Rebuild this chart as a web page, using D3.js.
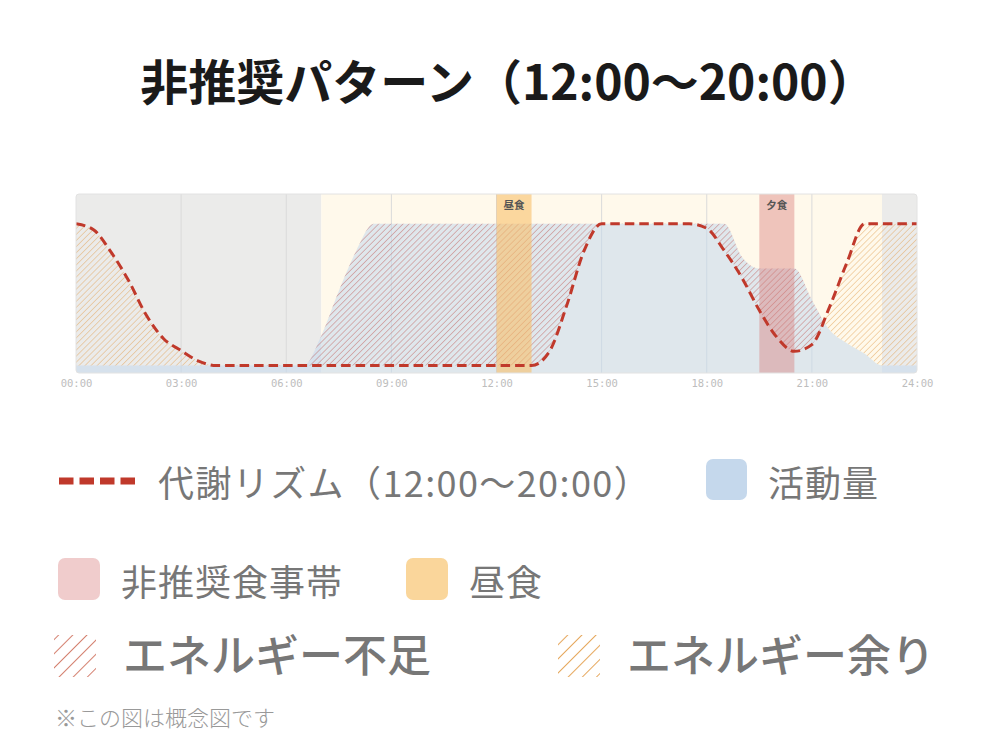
<!DOCTYPE html>
<html><head><meta charset="utf-8">
<script src="https://cdn.jsdelivr.net/npm/d3@7"></script>
<style>
html,body{margin:0;padding:0;background:#fff;}
svg{display:block;}
</style></head>
<body>
<svg id="chart" width="993" height="743"></svg>
<script>
// ---- data ----
const titleText = "非推奨パターン（12:00〜20:00）";
const metHours  = [0,0.5,1,1.5,2,2.5,3,3.5,4,13,13.5,14,14.5,15,17.5,18,18.5,19,19.5,20,20.5,21,21.5,22,22.5,24];
const metValues = [1.0,0.96,0.81,0.62,0.39,0.23,0.15,0.08,0.05,0.05,0.14,0.45,0.82,1.0,1.0,0.97,0.82,0.64,0.42,0.24,0.145,0.19,0.44,0.74,1.0,1.0];
const actHours  = [0,6.5,7,7.5,8,8.5,18.5,19,19.5,20.5,21,21.5,22,22.5,23,24];
const actValues = [0.05,0.05,0.25,0.55,0.82,1.0,1.0,0.78,0.7,0.7,0.49,0.29,0.2,0.13,0.05,0.05];
const zoneStarts = [0,7,23];
const zoneEnds   = [7,23,24];
const zoneKinds  = ["night","day","night"];
const mealLabels = ["昼食","夕食"];
const mealStarts = [12,19.5];
const mealEnds   = [13,20.5];
const mealKinds  = ["lunch","bad"];
const tickHours  = [0,3,6,9,12,15,18,21,24];
const legendLabels = {
  met: "代謝リズム（12:00〜20:00）",
  act: "活動量",
  bad: "非推奨食事帯",
  lunch: "昼食",
  short: "エネルギー不足",
  surplus: "エネルギー余り"
};
const noteText = "※この図は概念図です";

// ---- styles ----
const C = {
  night:"#ebebea", day:"#fff9eb",
  act:"#c5d8ec", line:"#c0392b",
  lunch:"rgba(248,192,106,0.6)", bad:"rgba(218,125,122,0.42)",
  lunchLeg:"#fad69b", badLeg:"#f0cccc",
  redHatch:"rgba(190,85,80,0.7)", orHatch:"rgba(226,160,82,0.75)"
};
const JP = "'Noto Sans CJK JP','Noto Sans',sans-serif";

const svg = d3.select("#chart");
const W = 993;
const plot = {l:76, r:917, t:194, b:373};

const x = d3.scaleLinear().domain([0,24]).range([plot.l, plot.r]);
const y = d3.scaleLinear().domain([0,1.2]).range([plot.b, plot.t]);

const met = metHours.map((h,i)=>({h, v:metValues[i]}));
const act = actHours.map((h,i)=>({h, v:actValues[i]}));
const curve = d3.curveMonotoneX;

const defs = svg.append("defs");
function hatch(id, color, size, sw){
  const p = defs.append("pattern").attr("id",id).attr("patternUnits","userSpaceOnUse")
    .attr("width",size).attr("height",size).attr("patternTransform","rotate(45)");
  p.append("line").attr("x1",0).attr("y1",0).attr("x2",0).attr("y2",size)
    .attr("stroke",color).attr("stroke-width",sw);
}
hatch("hRed", C.redHatch, 4.3, 1.1);
hatch("hOr", C.orHatch, 4.3, 1.1);
hatch("hRedLeg", "#d4806f", 10, 2);
hatch("hOrLeg", "#e6a75c", 10, 2);

defs.append("clipPath").attr("id","plotClip").append("rect")
  .attr("x",plot.l).attr("y",plot.t).attr("width",plot.r-plot.l).attr("height",plot.b-plot.t)
  .attr("rx",3);

const actArea = d3.area().x(d=>x(d.h)).y0(y(0)).y1(d=>y(d.v)).curve(curve);
const metArea = d3.area().x(d=>x(d.h)).y0(y(0)).y1(d=>y(d.v)).curve(curve);
const aboveMet = d3.area().x(d=>x(d.h)).y0(y(1.2)).y1(d=>y(d.v)).curve(curve);
const aboveAct = d3.area().x(d=>x(d.h)).y0(y(1.2)).y1(d=>y(d.v)).curve(curve);
const metLine = d3.line().x(d=>x(d.h)).y(d=>y(d.v)).curve(curve);

defs.append("clipPath").attr("id","underAct").append("path").attr("d", actArea(act));
defs.append("clipPath").attr("id","underMet").append("path").attr("d", metArea(met));

// title
svg.append("text").attr("x",508).attr("y",100).attr("text-anchor","middle")
  .attr("font-family",JP).attr("font-weight",700).attr("font-size",48).attr("fill","#1a1a1a")
  .text(titleText);

const g = svg.append("g").attr("clip-path","url(#plotClip)");
// background zones
g.selectAll("rect.zone").data(zoneStarts).join("rect").attr("class","zone")
  .attr("x",(d)=>x(d)).attr("y",plot.t)
  .attr("width",(d,i)=>x(zoneEnds[i])-x(d)).attr("height",plot.b-plot.t)
  .attr("fill",(d,i)=>C[zoneKinds[i]]);
// grid
g.selectAll("line.grid").data(tickHours.slice(1,-1)).join("line")
  .attr("x1",d=>x(d)).attr("x2",d=>x(d)).attr("y1",plot.t).attr("y2",plot.b)
  .attr("stroke","#dadada").attr("stroke-width",1);
// activity
g.append("path").attr("d",actArea(act)).attr("fill",C.act).attr("fill-opacity",0.55);
// shortage hatch: above metabolism, under activity
g.append("g").attr("clip-path","url(#underAct)")
  .append("path").attr("d",aboveMet(met)).attr("fill","url(#hRed)");
// surplus hatch: above activity, under metabolism
g.append("g").attr("clip-path","url(#underMet)")
  .append("path").attr("d",aboveAct(act)).attr("fill","url(#hOr)");
// meal bands
g.selectAll("rect.meal").data(mealStarts).join("rect").attr("class","meal")
  .attr("x",d=>x(d)).attr("y",plot.t)
  .attr("width",(d,i)=>x(mealEnds[i])-x(d)).attr("height",plot.b-plot.t)
  .attr("fill",(d,i)=>C[mealKinds[i]]);
g.selectAll("text.meal").data(mealStarts).join("text").attr("class","meal")
  .attr("x",(d,i)=>x((d+mealEnds[i])/2)).attr("y",plot.t+15).attr("text-anchor","middle")
  .attr("font-family",JP).attr("font-weight",700).attr("font-size",10.5).attr("fill","#555")
  .text((d,i)=>mealLabels[i]);
// metabolism line
g.append("path").attr("d",metLine(met)).attr("fill","none").attr("stroke",C.line)
  .attr("stroke-width",3).attr("stroke-dasharray","9.5,5");

// border
svg.append("rect").attr("x",plot.l).attr("y",plot.t).attr("width",plot.r-plot.l).attr("height",plot.b-plot.t)
  .attr("rx",3).attr("fill","none").attr("stroke","#e2e2e2").attr("stroke-width",1);

// axis
const axis = d3.axisBottom(x).tickValues(tickHours).tickSize(0).tickPadding(7)
  .tickFormat(d=>String(d).padStart(2,"0")+":00");
const ag = svg.append("g").attr("transform",`translate(0,${plot.b})`).call(axis);
ag.select(".domain").remove();
ag.selectAll("text").attr("font-family","'DejaVu Sans Mono',monospace").attr("font-size",10.5).attr("fill","#bdbdbd");

// legend
const lg = svg.append("g").attr("font-family",JP);
lg.append("line").attr("x1",59).attr("x2",137).attr("y1",481).attr("y2",481)
  .attr("stroke",C.line).attr("stroke-width",7).attr("stroke-dasharray","14.5,6");
lg.append("text").attr("x",158).attr("y",497).attr("font-size",36).attr("letter-spacing",1.4).attr("fill","#777").text(legendLabels.met);
lg.append("rect").attr("x",706).attr("y",459).attr("width",41).attr("height",41).attr("rx",7).attr("fill",C.act);
lg.append("text").attr("x",768).attr("y",497).attr("font-size",36).attr("letter-spacing",1).attr("fill","#777").text(legendLabels.act);

lg.append("rect").attr("x",58).attr("y",558).attr("width",42).attr("height",42).attr("rx",7).attr("fill",C.badLeg);
lg.append("text").attr("x",121).attr("y",596).attr("font-size",36).attr("letter-spacing",1).attr("fill","#777").text(legendLabels.bad);
lg.append("rect").attr("x",406).attr("y",558).attr("width",42).attr("height",42).attr("rx",7).attr("fill",C.lunchLeg);
lg.append("text").attr("x",469).attr("y",596).attr("font-size",36).attr("letter-spacing",1).attr("fill","#777").text(legendLabels.lunch);

lg.append("rect").attr("x",54).attr("y",635).attr("width",42).attr("height",42).attr("fill","url(#hRedLeg)");
lg.append("text").attr("x",123).attr("y",672).attr("font-size",44).attr("font-weight",500).attr("fill","#777").text(legendLabels.short);
lg.append("rect").attr("x",558).attr("y",635).attr("width",42).attr("height",42).attr("fill","url(#hOrLeg)");
lg.append("text").attr("x",627).attr("y",672).attr("font-size",44).attr("font-weight",500).attr("fill","#777").text(legendLabels.surplus);

lg.append("text").attr("x",55).attr("y",726).attr("font-size",22).attr("font-weight",300).attr("fill","#999").text(noteText);
</script>
</body></html>
